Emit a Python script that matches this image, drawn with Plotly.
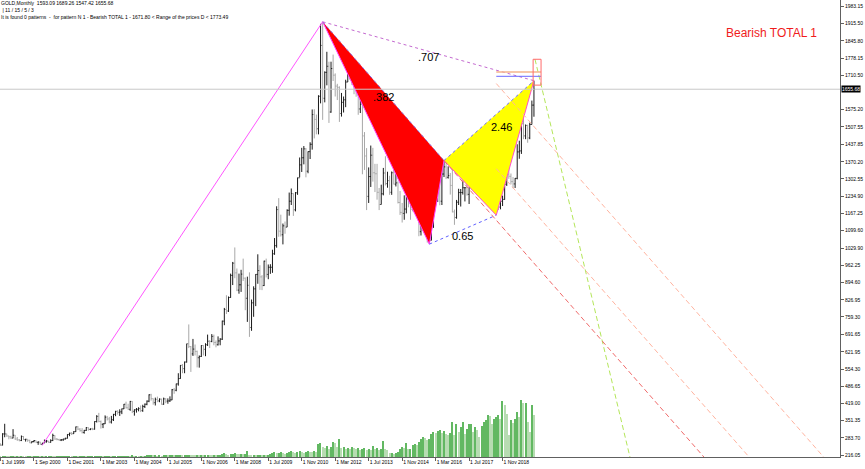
import plotly.graph_objects as go

# ---------------- DATA ----------------
# Monthly bars, index 0 = first bar on the chart (labelled "1 Jul 1999")
bar_high = [
    262, 302, 339, 300, 292, 292, 318, 295, 287, 279, 293, 291, 280, 278, 276, 271, 275,
    273, 270, 268, 264, 277, 275, 271, 278, 300, 294, 283, 280, 279, 280,
    284, 298, 304, 306, 310, 328, 330, 322, 322, 315, 326, 325, 321, 323, 349,
    373, 382, 352, 341, 372, 370, 366, 370, 378, 390, 392, 396, 399, 417,
    426, 418, 429, 428, 396, 401, 404, 411, 414, 419, 431, 455, 457,
    439, 442, 446, 439, 438, 442, 440, 439, 447, 476, 480, 497, 538,
    570, 574, 584, 654, 730, 645, 673, 651, 627, 608, 648, 648,
    656, 690, 668, 692, 690, 667, 683, 676, 745, 795, 845, 840,
    930, 976, 1033, 950, 930, 945, 989, 915, 918, 935, 828, 880,
    928, 1006, 963, 924, 981, 989, 966, 967, 1024, 1070, 1195, 1227,
    1162, 1127, 1135, 1183, 1249, 1265, 1246, 1251, 1308, 1387, 1425, 1432,
    1424, 1411, 1447, 1576, 1577, 1556, 1632, 1913, 1921, 1726, 1803, 1764,
    1764, 1792, 1718, 1677, 1667, 1641, 1627, 1693, 1790, 1796, 1755, 1723,
    1694, 1679, 1617, 1597, 1487, 1424, 1348, 1434, 1425, 1362, 1362, 1267,
    1280, 1346, 1392, 1331, 1315, 1332, 1345, 1322, 1293, 1255, 1208, 1238,
    1307, 1299, 1224, 1224, 1232, 1205, 1175, 1170, 1157, 1191, 1142, 1088,
    1128, 1263, 1283, 1304, 1304, 1362, 1375, 1367, 1352, 1326, 1338, 1182,
    1220, 1264, 1263, 1296, 1269, 1296, 1270, 1331, 1357, 1306, 1299, 1307,
    1366, 1362, 1365, 1365, 1326, 1309, 1266, 1226, 1214, 1243, 1237, 1284,
    1326, 1347, 1324, 1310, 1306, 1439, 1453, 1555, 1557, 1517, 1516, 1524,
    1611, 1689.26,
]
bar_low = [
    252, 254, 286, 288, 278, 279, 282, 276, 272, 270, 271, 275, 269, 268, 263, 264, 266,
    263, 256, 257, 255, 263, 265, 264, 265, 271, 276, 274, 272, 271, 272,
    277, 281, 290, 295, 299, 307, 314, 308, 301, 300, 311, 312, 314, 314, 316,
    344, 345, 320, 322, 338, 352, 341, 340, 350, 369, 375, 370, 377, 397,
    399, 394, 390, 381, 371, 383, 388, 385, 386, 401, 412, 424, 430,
    414, 411, 424, 424, 414, 414, 420, 418, 425, 432, 457, 467, 489,
    516, 538, 538, 580, 637, 543, 606, 608, 561, 560, 602, 608,
    605, 645, 637, 660, 648, 640, 647, 648, 669, 727, 771, 779,
    835, 885, 912, 861, 851, 858, 901, 786, 740, 681, 705, 760,
    802, 890, 866, 865, 881, 915, 908, 929, 933, 1004, 1032, 1075,
    1076, 1045, 1087, 1113, 1158, 1200, 1157, 1175, 1240, 1309, 1330, 1360,
    1309, 1325, 1381, 1418, 1462, 1478, 1478, 1600, 1535, 1604, 1671, 1523,
    1563, 1688, 1627, 1613, 1527, 1548, 1564, 1585, 1684, 1693, 1672, 1636,
    1626, 1555, 1562, 1321, 1338, 1180, 1208, 1271, 1292, 1251, 1221, 1180,
    1202, 1238, 1277, 1268, 1240, 1240, 1281, 1273, 1206, 1161, 1131, 1142,
    1167, 1191, 1142, 1175, 1170, 1162, 1077, 1080, 1098, 1106, 1052, 1046,
    1061, 1110, 1208, 1212, 1199, 1200, 1310, 1302, 1304, 1241, 1171, 1122,
    1146, 1200, 1194, 1241, 1214, 1237, 1204, 1267, 1271, 1260, 1264, 1236,
    1302, 1307, 1303, 1309, 1282, 1246, 1211, 1160, 1180, 1183, 1196, 1221,
    1275, 1303, 1281, 1266, 1267, 1301, 1382, 1401, 1459, 1459, 1445, 1459,
    1517, 1547.42,
]
bar_close = [
    255, 299, 299, 291, 288, 283, 294, 279, 276, 273, 289, 277, 278, 274, 264, 269, 273,
    266, 267, 258, 263, 268, 271, 266, 273, 293, 279, 277, 275, 276, 279,
    282, 297, 302, 300, 308, 327, 318, 312, 305, 313, 324, 317, 319, 318, 348,
    368, 348, 337, 339, 365, 358, 346, 355, 376, 388, 384, 386, 398, 416,
    402, 396, 427, 388, 394, 396, 399, 391, 407, 416, 428, 453, 438,
    422, 435, 429, 436, 416, 437, 428, 429, 433, 473, 471, 496, 517,
    569, 556, 582, 654, 643, 614, 633, 624, 599, 604, 647, 632,
    650, 664, 663, 683, 659, 650, 665, 672, 743, 789, 783, 836,
    923, 971, 933, 865, 886, 928, 912, 833, 884, 718, 815, 870,
    927, 942, 917, 883, 979, 927, 955, 955, 1008, 1040, 1182, 1097,
    1083, 1118, 1113, 1179, 1215, 1245, 1181, 1248, 1307, 1358, 1386, 1421,
    1333, 1410, 1439, 1556, 1537, 1500, 1628, 1828, 1620, 1722, 1746, 1566,
    1737, 1711, 1668, 1663, 1560, 1604, 1614, 1684, 1772, 1719, 1712, 1676,
    1663, 1578, 1596, 1472, 1393, 1234, 1312, 1396, 1327, 1323, 1250, 1202,
    1244, 1326, 1284, 1296, 1250, 1327, 1282, 1287, 1210, 1171, 1167, 1184,
    1283, 1212, 1183, 1183, 1190, 1172, 1095, 1133, 1115, 1142, 1065, 1061,
    1118, 1238, 1233, 1293, 1215, 1322, 1350, 1309, 1316, 1277, 1173, 1151,
    1211, 1249, 1249, 1268, 1268, 1242, 1269, 1322, 1280, 1271, 1275, 1303,
    1345, 1318, 1325, 1315, 1299, 1253, 1224, 1201, 1192, 1215, 1222, 1282,
    1321, 1313, 1292, 1283, 1305, 1409, 1413, 1520, 1472, 1513, 1464, 1517,
    1593.09, 1655.68,
]
first_open = 256
bar_open = [first_open] + bar_close[:-1]   # each bar opens at the previous close

tick_volume = [
    0.4, 0.6, 0.7, 0.5, 0.4, 0.5, 0.6, 0.4, 0.4, 0.3, 0.5, 0.4, 0.3, 0.4, 0.4, 0.3,
    0.3, 0.4, 0.4, 0.3, 0.4, 0.3, 0.3, 0.4, 0.6, 0.4, 0.3, 0.3, 0.3, 0.3, 0.4, 0.4,
    0.4, 0.4, 0.3, 0.4, 0.5, 0.4, 0.4, 0.4, 0.4, 0.3, 0.4, 0.5, 0.6, 0.6, 0.6, 0.6,
    0.6, 0.5, 0.6, 0.6, 0.7, 0.6, 0.6, 0.7, 0.7, 0.8, 0.8, 0.9, 1.0, 1.0, 0.9, 1.1,
    1.0, 1.0, 0.9, 1.0, 0.9, 1.0, 1.1, 1.2, 1.3, 1.1, 1.2, 1.0, 1.1, 1.0, 1.2, 1.3,
    1.2, 1.3, 1.5, 1.4, 1.6, 1.8, 2.0, 1.7, 1.8, 2.2, 2.5, 2.0, 1.8, 1.5, 1.7, 1.6,
    1.8, 1.7, 2.0, 2.2, 2.0, 1.9, 2.1, 1.8, 2.0, 2.4, 2.6, 4.0, 2.8, 2.5, 3.2, 3.5,
    4.0, 3.0, 2.8, 3.2, 3.0, 3.5, 6.0, 2.5, 2.0, 2.2, 1.8, 2.0, 2.5, 2.0, 2.2, 1.8,
    2.5, 3.0, 4.0, 5.0, 4.0, 4.5, 5.0, 4.0, 3.5, 4.0, 5.5, 6.0, 5.0, 4.5, 5.5, 6.0,
    5.0, 4.5, 5.0, 6.0, 5.5, 5.0, 6.0, 5.5, 13.0, 14.0, 10.0, 9.0, 11.0, 8.0, 10.0, 15.0,
    14.0, 10.0, 18.0, 9.0, 10.0, 8.0, 9.0, 8.0, 10.0, 9.0, 8.0, 9.0, 7.0, 8.0, 9.0, 7.0,
    8.0, 7.0, 11.0, 8.0, 9.0, 7.0, 8.0, 16.0, 8.0, 7.0, 4.0, 4.0, 3.0, 4.0, 5.0, 8.0,
    10.0, 9.0, 14.0, 8.0, 8.0, 12.0, 13.0, 12.0, 15.0, 18.0, 20.0, 19.0, 17.0, 18.0, 23.0, 25.0,
    24.0, 26.0, 27.0, 24.0, 26.0, 23.0, 22.0, 24.0, 35.0, 22.0, 33.0, 25.0, 30.0, 35.0, 23.0, 28.0,
    33.0, 33.0, 25.0, 30.0, 27.0, 20.0, 31.0, 35.0, 37.0, 42.0, 41.0, 33.0, 38.0, 40.0, 42.0, 38.0,
    56.0, 52.0, 43.0, 22.0, 37.0, 34.0, 38.0, 45.0, 40.0, 57.0, 54.0, 54.0, 35.0, 25.0, 52.0, 42.0,
]

x_tick_bars = [0, 16, 32, 48, 64, 80, 96, 112, 128, 144, 160, 176, 192, 208, 224, 240]
x_tick_labels = ["1 Jul 1999", "1 Sep 2000", "1 Dec 2001", "1 Mar 2003", "1 May 2004",
                 "1 Jul 2005", "1 Nov 2006", "1 Mar 2008", "1 Jul 2009", "1 Nov 2010",
                 "1 Mar 2012", "1 Jul 2013", "1 Nov 2014", "1 Mar 2016", "1 Jul 2017",
                 "1 Nov 2018"]
# (the 1642.85 level is hidden behind the current-price tag)
y_tick_values = [1983.15, 1915.50, 1845.80, 1778.15, 1710.50, 1575.20, 1507.55,
                 1437.85, 1370.20, 1302.55, 1234.90, 1167.25, 1099.60, 1029.90, 962.25,
                 894.60, 826.95, 759.30, 691.65, 621.95, 554.30, 486.65, 419.00, 351.35,
                 283.70, 216.05]

# Harmonic pattern points (bar index, price)
pattern_bars = [20, 154, 205, 212, 237, 255]
pattern_prices = [255, 1921, 1046, 1375, 1160, 1689.26]
ratio_labels = [".707", ".382", "2.46", "0.65"]

current_price = 1655.68
d_range_low = 1671.80
d_range_high = 1773.49
level_prices = [1723.4, 1706.5]          # orange / blue target levels

# projection lines: (start bar, start price, end bar, end price)
proj_green = [255.5, 1773.49, 302, 170]
proj_red = [212, 1375, 340, 173]
proj_salmon1 = [237, 1343, 365, 141]
proj_salmon2 = [237, 1678, 400, 147]

# ---------------- FIGURE ----------------
n = len(bar_close)
bar_index = list(range(n))
FONT = "Liberation Sans"

fig = go.Figure()

# volume histogram
vol_colors = []
for i, v in enumerate(tick_volume):
    if i > 0 and v >= tick_volume[i - 1]:
        vol_colors.append("#62b862")
    else:
        vol_colors.append("#b7dcb2")
fig.add_trace(go.Bar(x=bar_index, y=tick_volume, marker_color=vol_colors,
                     marker_line_width=0, width=0.55, yaxis="y2", hoverinfo="skip"))

# price bars
fig.add_trace(go.Ohlc(x=bar_index, open=bar_open, high=bar_high, low=bar_low, close=bar_close,
                      increasing=dict(line=dict(color="#1a1a1a", width=1)),
                      decreasing=dict(line=dict(color="#a8a8a8", width=1)),
                      tickwidth=0.45, hoverinfo="skip"))

pb, pp = pattern_bars, pattern_prices

# filled triangles
fig.add_trace(go.Scatter(x=[pb[1], pb[2], pb[3], pb[1]], y=[pp[1], pp[2], pp[3], pp[1]],
                         fill="toself", fillcolor="#ff0000", mode="lines",
                         line=dict(width=0), hoverinfo="skip"))
fig.add_trace(go.Scatter(x=[pb[3], pb[4], pb[5], pb[3]], y=[pp[3], pp[4], pp[5], pp[3]],
                         fill="toself", fillcolor="#ffff00", mode="lines",
                         line=dict(width=0), hoverinfo="skip"))


def seg(xs, ys, color, width=1, dash="solid"):
    fig.add_trace(go.Scatter(x=xs, y=ys, mode="lines",
                             line=dict(color=color, width=width, dash=dash),
                             hoverinfo="skip"))


# pattern legs
seg([pb[0], pb[1]], [pp[0], pp[1]], "#ff55ff")
seg([pb[1], pb[2], pb[3]], [pp[1], pp[2], pp[3]], "#ff40ff")
seg([pb[3], pb[4], pb[5]], [pp[3], pp[4], pp[5]], "#ff50c8")
seg([pb[1], pb[3]], [pp[1], pp[3]], "#8a6ad8", dash="dot")
seg([pb[3], pb[5]], [pp[3], pp[5]], "#7070ff", dash="dot")
seg([pb[1], pb[5]], [pp[1], pp[5]], "#c46ad0", dash="dot")
seg([pb[2], pb[4]], [pp[2], pp[4]], "#6060ff", dash="dot")

# projection lines
DASH = "5px,3px"
seg([proj_green[0], proj_green[2]], [proj_green[1], proj_green[3]], "#b4e65a", dash=DASH)
seg([proj_red[0], proj_red[2]], [proj_red[1], proj_red[3]], "#f06a6a", dash=DASH)
seg([proj_salmon1[0], proj_salmon1[2]], [proj_salmon1[1], proj_salmon1[3]], "#ffb4a0", dash=DASH)
seg([proj_salmon2[0], proj_salmon2[2]], [proj_salmon2[1], proj_salmon2[3]], "#ffb4a0", dash=DASH)

# target levels and D zone
seg([pb[4], 258.4], [level_prices[0], level_prices[0]], "#f4b48c", width=1.5)
seg([pb[4], 258.4], [level_prices[1], level_prices[1]], "#6a6aff", width=1)
fig.add_shape(type="rect", x0=254.6, x1=258.4, y0=d_range_low, y1=d_range_high,
              line=dict(color="#ff6a6a", width=1), fillcolor="rgba(0,0,0,0)")

# current price line
fig.add_shape(type="line", xref="paper", x0=0, x1=1, y0=current_price, y1=current_price,
              line=dict(color="#c8c8c8", width=1))

# ratio labels at leg midpoints
label_pairs = [(1, 5), (1, 3), (3, 5), (2, 4)]
label_shift = [(0, -6), (0, -6), (13, -6), (0, -6)]
for txt, (a, b), (dx, dy) in zip(ratio_labels, label_pairs, label_shift):
    fig.add_annotation(x=(pb[a] + pb[b]) / 2, y=(pp[a] + pp[b]) / 2, text=txt,
                       showarrow=False, xshift=dx, yshift=dy,
                       font=dict(family=FONT, size=11, color="#000000"))

PLOT_H = 457
PLOT_W = 840
# header texts
header = ["GOLD,Monthly  1593.09 1689.26 1547.42 1655.68",
          " | 11 / 15 / 5 / 3",
          "It is found 0 patterns  -  for pattern N 1 - Bearish TOTAL 1 - 1671.80 < Range of the prices D < 1773.49"]
for k, line in enumerate(header):
    fig.add_annotation(xref="paper", yref="paper", x=0, y=1 - (3 + 7 * k) / PLOT_H,
                       xanchor="left", yanchor="middle", text=line, showarrow=False,
                       borderpad=0,
                       font=dict(family=FONT, size=5, color="#000000"))

fig.add_annotation(xref="paper", yref="paper", x=771 / PLOT_W, y=1 - 33 / PLOT_H,
                   xanchor="center", yanchor="middle",
                   text="Bearish TOTAL 1", showarrow=False,
                   font=dict(family=FONT, size=12, color="#f01c1c"))

# current price tag on the price scale
fig.add_annotation(xref="paper", yref="y", x=1, y=current_price, xanchor="left",
                   xshift=1, text="1655.68", showarrow=False, bgcolor="#000000",
                   borderpad=0, font=dict(family=FONT, size=5, color="#ffffff"))

fig.update_layout(
    width=865, height=469,
    margin=dict(l=0, r=25, t=0, b=12, autoexpand=False),
    paper_bgcolor="#ffffff", plot_bgcolor="#ffffff",
    showlegend=False,
    font=dict(family=FONT, size=5, color="#000000"),
    bargap=0,
    xaxis=dict(range=[-0.24, 401.3], tickvals=x_tick_bars, ticktext=x_tick_labels,
               ticks="outside", ticklen=3, tickcolor="#606060", showline=True,
               linecolor="#606060", linewidth=1, showgrid=False, zeroline=False,
               ticklabelposition="outside right", tickangle=0, automargin=False,
               tickfont=dict(size=5), rangeslider=dict(visible=False), fixedrange=True),
    yaxis=dict(range=[208.3, 2006.8], side="right", tickvals=y_tick_values,
               ticktext=[f"{v:.2f}" for v in y_tick_values], automargin=False,
               ticks="outside", ticklen=3, tickcolor="#606060", showline=True,
               linecolor="#606060", linewidth=1, showgrid=False, zeroline=False,
               tickfont=dict(size=5), fixedrange=True),
    yaxis2=dict(overlaying="y", range=[0, PLOT_H], visible=False, fixedrange=True),
)

fig.write_html("out.html", config={"displayModeBar": False},
               post_script="document.body.style.margin='0';document.body.style.overflow='hidden';")
